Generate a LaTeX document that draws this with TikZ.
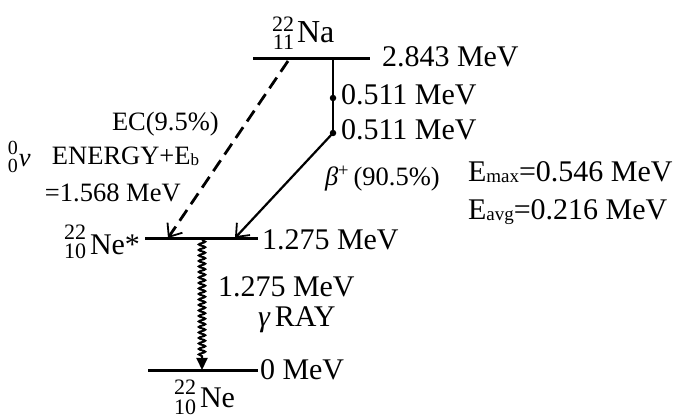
\documentclass[tikz,border=0pt]{standalone}
\usepackage{fontspec}
\setmainfont{Liberation Serif}
\usetikzlibrary{arrows.meta,decorations.pathmorphing}
\newcommand{\prescr}[5]{{\fontsize{#1}{#1}\selectfont\raisebox{#2}{#3}\llap{\raisebox{#4}{#5}}}}
\tikzset{
  lbl/.style={inner sep=0pt, outer sep=0pt, anchor=base west, font=\fontsize{30}{30}\selectfont},
  sml/.style={inner sep=0pt, outer sep=0pt, anchor=base west, font=\fontsize{26.5}{27}\selectfont},
  nuc/.style={inner sep=0pt, outer sep=0pt, anchor=base west, font=\fontsize{30}{30}\selectfont},
  level/.style={line width=3pt},
  dotnode/.style={circle, fill=black, inner sep=0pt, minimum size=6.5pt},
  barb/.style={-{Straight Barb[length=11pt,width=18pt,line width=1.8pt]}},
}
\begin{document}
\begin{tikzpicture}[x=1pt,y=-1pt]
\useasboundingbox (0,0) rectangle (689,419);
% levels
\coordinate (naL) at (253,59);  \coordinate (naR) at (370,59);
\coordinate (nesL) at (145,239); \coordinate (nesR) at (258,239);
\coordinate (neL) at (148,371);  \coordinate (neR) at (258,371);
\draw[level] (naL) -- (naR);
\draw[level] (nesL) -- (nesR);
\draw[level] (neL) -- (neR);
% beta+ branch
\coordinate (vtop) at (333,59);
\node[dotnode] (d1) at (333,98) {};
\node[dotnode] (d2) at (333,133) {};
\coordinate (btip) at (235,238);
\draw[line width=2.2pt] (vtop) -- (d1.center) -- (d2.center);
\draw[line width=2.2pt, barb] (d2.center) -- (btip);
% EC branch
\coordinate (ecs) at (288,61);
\coordinate (ect) at (168,238);
\draw[line width=2.8pt, dash pattern=on 13pt off 7pt, barb] (ecs) -- (ect);
% gamma
\coordinate (gs) at (202,240);
\coordinate (ge) at (202,370);
\draw[line width=2pt, decorate, decoration={snake, amplitude=3.2pt, segment length=5.5pt, post length=13pt},
  -{Triangle[length=12pt,width=11pt]}] (gs) -- (ge);
% nuclide labels
\node[nuc, font=\fontsize{32}{32}\selectfont] (na) at (272,43) {\prescr{22}{11pt}{22}{-7pt}{11}\kern3pt Na};
\node[nuc] (nes) at (64,255) {\prescr{22}{15pt}{22}{-4pt}{10}\kern4pt Ne*};
\node[nuc] (ne) at (174,408) {\prescr{22}{13pt}{22}{-7pt}{10}\kern4pt Ne};
% energies
\node[lbl] (e1) at (382,67) {2.843 MeV};
\node[lbl] (e2) at (341,105) {0.511 MeV};
\node[lbl] (e3) at (341,140) {0.511 MeV};
\node[lbl] (e4) at (262,250) {1.275 MeV};
\node[lbl] (e5) at (260,380) {0 MeV};
\node[lbl] (g1) at (218,297) {1.275 MeV};
\node[lbl] (g2) at (258,327) {{\itshape γ}\,RAY};
% beta label and energies
\node[sml] (bl) at (325,186) {{\itshape β}\textsuperscript{+}\,(90.5\%)};
\node[lbl] (emax) at (468,182) {E\raisebox{-1pt}{\fontsize{19}{19}\selectfont max}=0.546 MeV};
\node[lbl] (eavg) at (468,220) {E\raisebox{-1pt}{\fontsize{19}{19}\selectfont avg}=0.216 MeV};
% EC labels
\node[sml] (ec) at (112,131) {EC(9.5\%)};
\node[sml] (nu) at (8,167) {\prescr{20}{12pt}{0}{-6pt}{0}\kern1pt{\itshape ν}};
\node[sml] (en) at (52,165) {ENERGY+E\raisebox{-1pt}{\fontsize{17}{17}\selectfont b}};
\node[sml] (eq) at (45,202) {=1.568 MeV};
\end{tikzpicture}
\end{document}
